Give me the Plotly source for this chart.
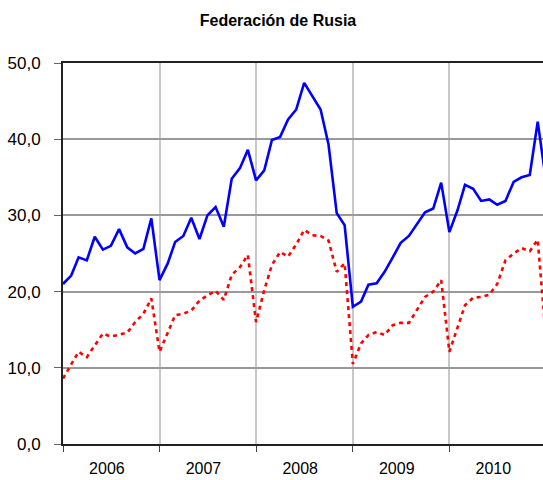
import pandas as pd
import plotly.graph_objects as go

months = pd.date_range("2006-01-01", periods=61, freq="MS")

blue_values = [
    21.0, 22.1, 24.5, 24.1, 27.2, 25.5, 26.0, 28.2, 25.8, 25.0, 25.6, 29.6,
    21.5, 23.7, 26.5, 27.3, 29.7, 26.9, 30.0, 31.1, 28.5, 34.8, 36.2, 38.6,
    34.6, 35.9, 39.9, 40.3, 42.6, 43.9, 47.4, 45.6, 43.9, 39.3, 30.3, 28.7,
    18.0, 18.7, 20.9, 21.1, 22.6, 24.5, 26.4, 27.3, 28.8, 30.4, 30.9, 34.3,
    27.8, 30.7, 34.0, 33.5, 31.9, 32.1, 31.4, 31.9, 34.4, 35.0, 35.3, 42.3,
    34.6,
]

red_values = [
    8.6, 10.4, 12.1, 11.4, 13.0, 14.5, 14.1, 14.3, 14.6, 16.0, 17.1, 19.1,
    12.1, 14.6, 16.9, 17.1, 17.5, 18.8, 19.5, 20.1, 18.9, 22.2, 23.2, 24.8,
    16.0, 20.2, 23.5, 25.2, 24.6, 26.2, 28.1, 27.4, 27.3, 26.7, 22.6, 23.7,
    10.5, 13.2, 14.3, 14.7, 14.3, 15.6, 15.9, 15.9, 17.7, 19.3, 20.0, 21.5,
    12.1, 15.3, 18.2, 19.2, 19.3, 19.6, 21.0, 24.1, 25.0, 25.7, 25.3, 26.8,
    14.0,
]

year_starts = ["2006-01-01", "2007-01-01", "2008-01-01", "2009-01-01", "2010-01-01"]
year_label_pos = ["2006-06-16", "2007-06-16", "2008-06-16", "2009-06-16", "2010-06-16"]
year_labels = ["2006", "2007", "2008", "2009", "2010"]
y_ticks = [0, 10, 20, 30, 40, 50]

x_range = ["2006-01-01", "2010-12-21"]

fig = go.Figure()
fig.add_trace(go.Scatter(
    x=months, y=red_values, mode="lines",
    line=dict(color="#ff0000", width=2.6, dash="4px,4px"),
    showlegend=False, hoverinfo="skip",
))
fig.add_trace(go.Scatter(
    x=months, y=blue_values, mode="lines",
    line=dict(color="#0000ff", width=2.6),
    showlegend=False, hoverinfo="skip",
))
# invisible trace to carry the year-label axis
fig.add_trace(go.Scatter(
    x=[months[0]], y=[None], xaxis="x2", mode="lines",
    showlegend=False, hoverinfo="skip",
))

fig.update_layout(
    width=543, height=480,
    margin=dict(l=63, r=0, t=63, b=36),
    paper_bgcolor="white", plot_bgcolor="white",
    separators=", ",
    title=dict(
        text="<b>Federación de Rusia</b>",
        x=0.512, xanchor="center", y=0.958, yanchor="middle",
        font=dict(family="Liberation Sans Narrow, Liberation Sans, Arial", size=16, color="#000000"),
    ),
    font=dict(family="Liberation Sans, Arial", size=17, color="#000000"),
    xaxis=dict(
        type="date", range=x_range,
        tickvals=year_starts, ticktext=[""] * len(year_starts),
        showgrid=True, gridcolor="#c8c8c8", gridwidth=2,
        ticks="outside", ticklen=6, tickcolor="#444444", tickwidth=1,
        showline=True, linecolor="#222222", linewidth=2, mirror=True,
        zeroline=False,
    ),
    xaxis2=dict(
        type="date", overlaying="x", matches="x", side="bottom",
        tickvals=year_label_pos, ticktext=year_labels,
        showgrid=False, ticks="", showline=False, zeroline=False,
        tickfont=dict(size=16), ticklabelstandoff=13,
    ),
    yaxis=dict(
        range=[0, 50], tickvals=y_ticks, tickformat=".1f",
        showgrid=True, gridcolor="#999999", gridwidth=1.5,
        ticks="outside", ticklen=7, tickcolor="#666666", tickwidth=1,
        showline=True, linecolor="#222222", linewidth=2,
        zeroline=False, ticklabelstandoff=10,
    ),
)

fig.write_html(
    "out.html",
    config={"displayModeBar": False},
    post_script="document.body.style.margin='0';document.body.style.overflow='hidden';",
)
